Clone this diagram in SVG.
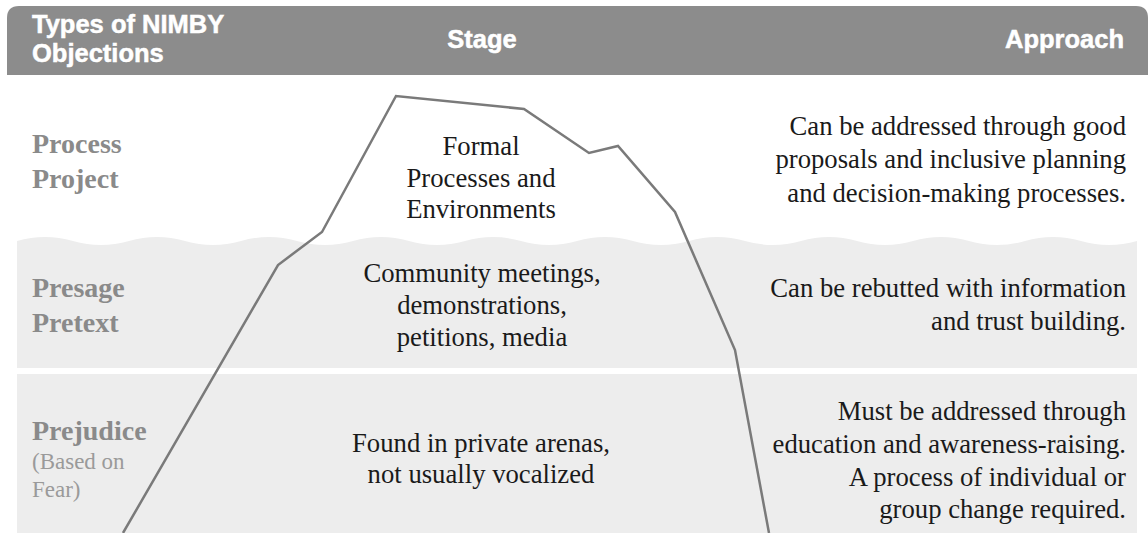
<svg xmlns="http://www.w3.org/2000/svg" width="1148" height="533" viewBox="0 0 1148 533">
<style>
.hd{font-family:"Liberation Sans",Arial,sans-serif;font-weight:900;font-size:25.5px;fill:#fff;stroke:#fff;stroke-width:0.5}
.lab{font-family:"Liberation Serif","Times New Roman",serif;font-weight:bold;font-size:28px;fill:#8a8a8a}
.sub{font-family:"Liberation Serif","Times New Roman",serif;font-size:23px;fill:#9a9a9a}
.bd{font-family:"Liberation Serif","Times New Roman",serif;font-size:26.7px;fill:#1a1a1a}
.c{text-anchor:middle}
.r{text-anchor:end}
.band{fill:#ededed}
</style>
<rect width="1148" height="533" fill="#fff"/>
<g id="header">
<path d="M7,75 L7,18 Q7,6 19,6 L1136,6 Q1148,6 1148,18 L1148,75 Z" fill="#8c8c8c"/>
<text class="hd" x="32" y="33">Types of NIMBY</text>
<text class="hd" x="32" y="62">Objections</text>
<text class="hd c" x="482" y="48">Stage</text>
<text class="hd r" x="1124" y="48">Approach</text>
</g>
<g id="row-bands">
<path class="band" d="M17,241 Q45,233 73,241 T129,241 T185,241 T241,241 T297,241 T353,241 T409,241 T465,241 T521,241 T577,241 T633,241 T689,241 T745,241 T801,241 T857,241 T913,241 T969,241 T1025,241 T1081,241 T1137,241 L1137,368 L17,368 Z"/>
<rect class="band" x="17" y="374" width="1120" height="159"/>
</g>
<g id="row-process">
<text class="lab" x="32" y="153">Process</text>
<text class="lab" x="32" y="188">Project</text>
<text class="bd c" x="481" y="155">Formal</text>
<text class="bd c" x="481" y="187">Processes and</text>
<text class="bd c" x="481" y="218">Environments</text>
<text class="bd r" x="1126" y="135">Can be addressed through good</text>
<text class="bd r" x="1126" y="168">proposals and inclusive planning</text>
<text class="bd r" x="1126" y="202">and decision-making processes.</text>
</g>
<g id="row-presage">
<text class="lab" x="32" y="297">Presage</text>
<text class="lab" x="32" y="332">Pretext</text>
<text class="bd c" x="482" y="282">Community meetings,</text>
<text class="bd c" x="482" y="314">demonstrations,</text>
<text class="bd c" x="482" y="346">petitions, media</text>
<text class="bd r" x="1126" y="297">Can be rebutted with information</text>
<text class="bd r" x="1126" y="330">and trust building.</text>
</g>
<g id="row-prejudice">
<text class="lab" x="32" y="440">Prejudice</text>
<text class="sub" x="32" y="469">(Based on</text>
<text class="sub" x="32" y="497">Fear)</text>
<text class="bd c" x="481" y="452">Found in private arenas,</text>
<text class="bd c" x="481" y="483">not usually vocalized</text>
<text class="bd r" x="1126" y="420">Must be addressed through</text>
<text class="bd r" x="1126" y="453">education and awareness-raising.</text>
<text class="bd r" x="1126" y="486">A process of individual or</text>
<text class="bd r" x="1126" y="518">group change required.</text>
</g>
<g id="connectors">
<polyline id="iceberg" points="123,533 278,265 322,232 396,96 524,109 589,153 618,146 675,212 735,350 769,533" fill="none" stroke="#7a7a7a" stroke-width="2.5" stroke-linejoin="miter"/>
</g>
</svg>
